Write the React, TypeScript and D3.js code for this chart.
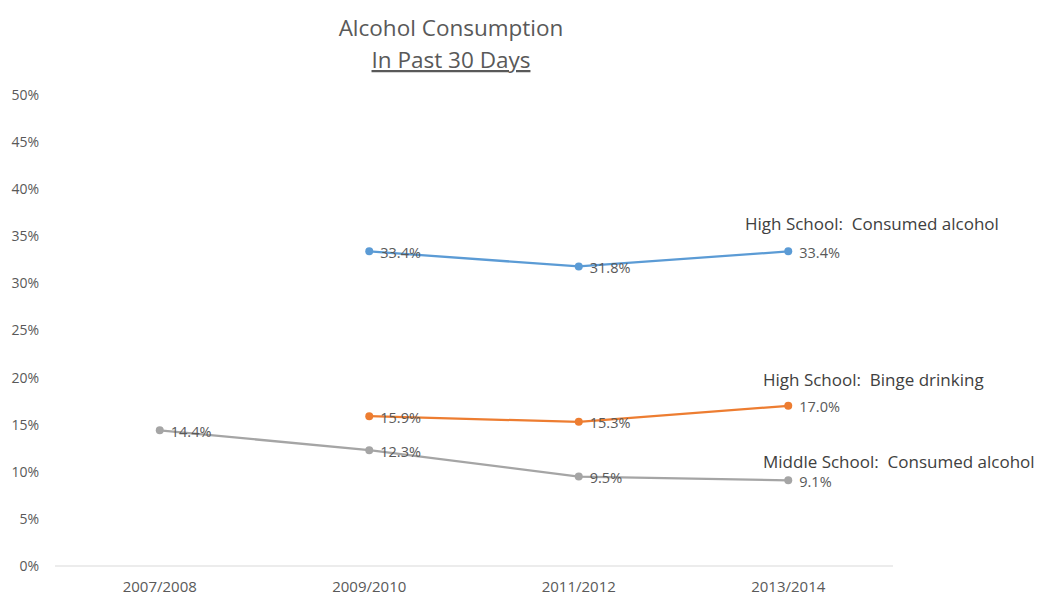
import React from "react";
import * as d3 from "d3";

const categories = ["2007/2008", "2009/2010", "2011/2012", "2013/2014"];
const hsAlcohol: (number | null)[] = [null, 33.4, 31.8, 33.4];
const hsBinge: (number | null)[] = [null, 15.9, 15.3, 17.0];
const msAlcohol: (number | null)[] = [14.4, 12.3, 9.5, 9.1];
const yTicks = [0, 5, 10, 15, 20, 25, 30, 35, 40, 45, 50];
const seriesNames = ["High School:  Consumed alcohol", "High School:  Binge drinking", "Middle School:  Consumed alcohol"];

const W = 1040, H = 595;
const FONT = "'Open Sans', 'Noto Sans', sans-serif";

export default function App() {
  const x = d3.scaleBand<string>().domain(categories).range([55, 893]);
  const y = d3.scaleLinear().domain([0, 50]).range([566, 95]);
  const cx = (c: string) => (x(c) as number) + x.bandwidth() / 2;

  const series = [
    { vals: hsAlcohol, color: "#5B9BD5", name: seriesNames[0], nx: 745, ny: 230 },
    { vals: hsBinge, color: "#ED7D31", name: seriesNames[1], nx: 763, ny: 386 },
    { vals: msAlcohol, color: "#A5A5A5", name: seriesNames[2], nx: 763, ny: 468 },
  ];

  return (
    <svg width={W} height={H} style={{ position: "absolute", left: 0, top: 0, background: "#fff" }} fontFamily={FONT}>
      <rect width={W} height={H} fill="#fff" />
      <text x={451} y={36} textAnchor="middle" fontSize={22.5} fill="#595959">Alcohol Consumption</text>
      <text x={451} y={68} textAnchor="middle" fontSize={22.5} fill="#595959" textDecoration="underline">In Past 30 Days</text>
      {yTicks.map((t) => (
        <text key={t} x={39} y={y(t)} dy="0.35em" textAnchor="end" fontSize={14} fill="#595959">{t}%</text>
      ))}
      <line x1={55} x2={893} y1={y(0)} y2={y(0)} stroke="#d9d9d9" strokeWidth={1} />
      {categories.map((c) => (
        <text key={c} x={cx(c)} y={592} textAnchor="middle" fontSize={15} fill="#595959">{c}</text>
      ))}
      {series.map((s, si) => {
        const pts = categories.map((c, i) => ({ c, v: s.vals[i] })).filter((p) => p.v != null) as { c: string; v: number }[];
        const line = d3.line<{ c: string; v: number }>().x((p) => cx(p.c)).y((p) => y(p.v));
        return (
          <g key={si}>
            <path d={line(pts) || ""} fill="none" stroke={s.color} strokeWidth={2.25} />
            {pts.map((p) => (
              <circle key={p.c} cx={cx(p.c)} cy={y(p.v)} r={4} fill={s.color} />
            ))}
            {pts.map((p) => (
              <text key={"l" + p.c} x={cx(p.c) + 11} y={y(p.v) + 1.5} dy="0.35em" fontSize={14.5} fill="#595959">{p.v.toFixed(1)}%</text>
            ))}
            <text x={s.nx} y={s.ny} fontSize={17} fill="#404040" style={{ whiteSpace: "pre" }}>{s.name}</text>
          </g>
        );
      })}
    </svg>
  );
}
